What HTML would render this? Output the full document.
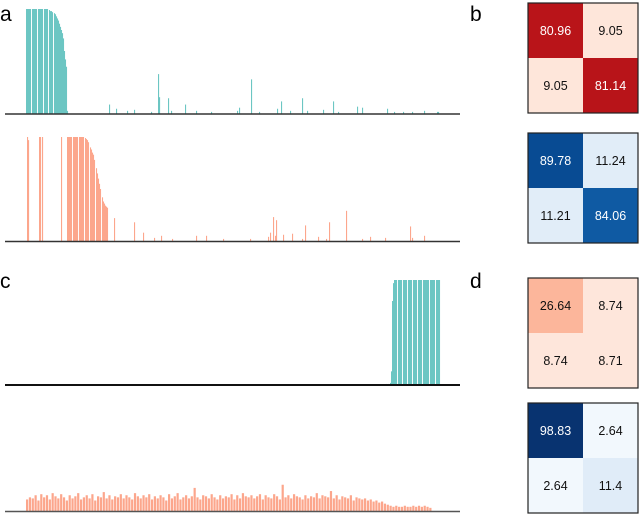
<!DOCTYPE html>
<html><head><meta charset="utf-8"><style>
body{margin:0;background:#fff;}
svg{display:block;font-family:"Liberation Sans","DejaVu Sans",sans-serif;}
</style></head><body>
<svg id="chart" width="640" height="514" viewBox="0 0 640 514">
<text x="0" y="21" font-size="21">a</text>
<text x="470" y="21" font-size="21">b</text>
<text x="0" y="288" font-size="21">c</text>
<text x="470" y="288" font-size="21">d</text>
<g id="bars"></g>
<g id="axes"></g>
<g id="heat"></g>
</svg>
<script>
// ---- data ----
const aTopHead = [1,1,1,1,1,0,1,1,1,1,1,0,1,1,1,1,1,0,1,1,1,1,0,0.99,0.98,0.98,0.97,0,0.96,0.95,0.93,0.91,0.89,0.86,0.83,0.8,0.77,0.72,0.6,0.52,0.45,0.03];
const aTopSpikeIdx = [83,90,101,108,125,132,133,142,145,159,170,185,211,213,225,233,251,255,264,276,281,297,307,312,331,336,361,368,377,386,398,411,412];
const aTopSpikeVal = [0.09,0.05,0.03,0.04,0.02,0.38,0.16,0.15,0.03,0.09,0.03,0.02,0.03,0.06,0.33,0.02,0.05,0.12,0.03,0.15,0.03,0.04,0.12,0.02,0.07,0.06,0.05,0.02,0.02,0.02,0.03,0.02,0.02];
const aBotHead = [1,1,1,1,1,0,1,1,1,1,1,0,1,1,1,1,1,0,0.99,0.98,0.97,0.95,0,0.9,0.88,0.85,0.83,0.78,0,0.7,0.65,0.6,0.55,0.5,0,0.42,0.38,0.36,0.34,0.33,0.32];
const aBotSpikeIdx = [1,2,13,14,16,35,88,108,117,128,135,146,170,180,197,224,242,244,247,249,250,257,266,276,279,292,300,303,320,336,344,359,384,386,398];
const aBotSpikeVal = [1,0.97,1,1,1,1,0.22,0.18,0.08,0.03,0.05,0.02,0.05,0.05,0.02,0.02,0.04,0.08,0.23,0.05,0.2,0.06,0.07,0.02,0.15,0.04,0.02,0.18,0.29,0.02,0.04,0.03,0.14,0.03,0.05];
const cTopIdx = [360,362,364,365,366,367,368,369,370,371,372,373,374,375,376,377,378,379,380,381,382,383,384,385,386,387,388,389,390,391,392,393,394,395,396,397,398,399,400,401,402,403,404,405,406,407,408,409,410,411,412,413];
const cTopVal = [0.01,0.01,0.02,0.13,0.8,0.97,1,1,1,0,1,1,1,1,0,1,1,1,1,0,1,1,1,1,0,1,1,1,1,0,1,1,1,1,0,1,1,1,1,1,1,0,1,1,1,1,1,0,1,1,1,1];
const cBotVal = [0.11,0.13,0.12,0.15,0.1,0.16,0.13,0.15,0.11,0.17,0.14,0.12,0.16,0.13,0.1,0.15,0.12,0.14,0.17,0.11,0.13,0.15,0.12,0.16,0.1,0.14,0.13,0.18,0.12,0.15,0.11,0.14,0.13,0.16,0.12,0.15,0.13,0.11,0.17,0.14,0.12,0.15,0.13,0.16,0.11,0.14,0.12,0.15,0.13,0.1,0.16,0.12,0.14,0.17,0.11,0.13,0.15,0.12,0.14,0.22,0.13,0.11,0.15,0.14,0.12,0.16,0.13,0.11,0.15,0.12,0.14,0.13,0.16,0.11,0.15,0.12,0.17,0.14,0.13,0.15,0.12,0.14,0.16,0.11,0.15,0.13,0.12,0.16,0.14,0.11,0.25,0.13,0.15,0.12,0.16,0.14,0.13,0.11,0.15,0.12,0.14,0.13,0.17,0.12,0.15,0.14,0.13,0.19,0.12,0.15,0.11,0.14,0.13,0.12,0.15,0.1,0.13,0.12,0.11,0.12,0.1,0.11,0.09,0.1,0.08,0.09,0.07,0.06,0.05,0.04,0.05,0.04,0.04,0.05,0.04,0.04,0.05,0.04,0.05,0.04,0.05,0.04,0.03];
const heatValues = [[80.96,9.05,9.05,81.14],[89.78,11.24,11.21,84.06],[26.64,8.74,8.74,8.71],[98.83,2.64,2.64,11.4]];
const heatMaps = ["reds","blues","reds","blues"];

// ---- drawing ----
const NS="http://www.w3.org/2000/svg";
const barsG=document.getElementById('bars');
const axesG=document.getElementById('axes');
const heatG=document.getElementById('heat');
const X0=26;
function xIdx(i){return X0+i*1.0;}
function yScale(base,h){return v=>base-v*h;}
function bar(x,w,base,h,v,color,name){
  if(v<=0) return;
  const r=document.createElementNS(NS,'rect');
  const y=yScale(base,h)(v);
  r.setAttribute('x',x);r.setAttribute('y',y);
  r.setAttribute('width',w);r.setAttribute('height',base-y);
  r.setAttribute('fill',color);
  
  
  barsG.appendChild(r);
}
const TEAL="#6cc6c3", SALMON="#fca68c";
aTopHead.forEach((v,i)=>bar(xIdx(i),1.05,114,105,v,TEAL,'bar-a-top'));
aTopSpikeIdx.forEach((ix,k)=>bar(xIdx(ix),1.1,114,105,aTopSpikeVal[k],TEAL,'bar-a-top'));
aBotHead.forEach((v,i)=>bar(xIdx(41+i),1.05,241,104,v,SALMON,'bar-a-bottom'));
aBotSpikeIdx.forEach((ix,k)=>bar(xIdx(ix),1.1,241,104,aBotSpikeVal[k],SALMON,'bar-a-bottom'));
cTopIdx.forEach((ix,k)=>bar(xIdx(ix),1.05,385,105,cTopVal[k],TEAL,'bar-c-top'));
cBotVal.forEach((v,i)=>bar(X0+i*2.84,2.2,511,105,v,SALMON,'bar-c-bottom'));

function axis(y,color,w,name){
  const l=document.createElementNS(NS,'line');
  l.setAttribute('x1',5);l.setAttribute('x2',460);l.setAttribute('y1',y);l.setAttribute('y2',y);
  l.setAttribute('stroke',color);l.setAttribute('stroke-width',w);
  
  
  axesG.appendChild(l);
}
axis(114,'#333',1.5,'x-axis-a-top');
axis(241.5,'#333',1.5,'x-axis-a-bottom');
axis(385,'#111',2,'x-axis-c-top');
axis(511.5,'#555',1.5,'x-axis-c-bottom');

function lerp(a,b,t){return a.map((v,i)=>Math.round(v+(b[i]-v)*t));}
function cmap(name,v){
  const stops = name==='reds'
    ? [[255,245,240],[254,224,210],[252,187,161],[252,146,114],[251,106,74],[239,59,44],[203,24,29],[165,15,21],[103,0,13]]
    : [[247,251,255],[222,235,247],[198,219,239],[158,202,225],[107,174,214],[66,146,198],[33,113,181],[8,81,156],[8,48,107]];
  const t=Math.max(0,Math.min(1,v/100))*(stops.length-1);
  const i=Math.min(stops.length-2,Math.floor(t));
  const c=lerp(stops[i],stops[i+1],t-i);
  return 'rgb('+c.join(',')+')';
}
const heatTops=[3,133,278,403];
heatValues.forEach((vals,m)=>{
  const top=heatTops[m], left=528, cs=55;
  vals.forEach((v,k)=>{
    const cx=left+(k%2)*cs, cy=top+Math.floor(k/2)*cs;
    const r=document.createElementNS(NS,'rect');
    r.setAttribute('x',cx);r.setAttribute('y',cy);r.setAttribute('width',cs);r.setAttribute('height',cs);
    r.setAttribute('fill',cmap(heatMaps[m],v));
    
    
    heatG.appendChild(r);
    const t=document.createElementNS(NS,'text');
    t.setAttribute('x',cx+cs/2);t.setAttribute('y',cy+cs/2+4.5);
    t.setAttribute('text-anchor','middle');t.setAttribute('font-size','12.5');
    t.setAttribute('fill',v>60?'#fff':'#111');
    t.textContent=String(v);
    
    
    heatG.appendChild(t);
  });
  const f=document.createElementNS(NS,'rect');
  f.setAttribute('x',left);f.setAttribute('y',top);f.setAttribute('width',cs*2);f.setAttribute('height',cs*2);
  f.setAttribute('fill','none');f.setAttribute('stroke','#222');f.setAttribute('stroke-width','1.2');
  
  
  heatG.appendChild(f);
});
</script>
</body></html>
